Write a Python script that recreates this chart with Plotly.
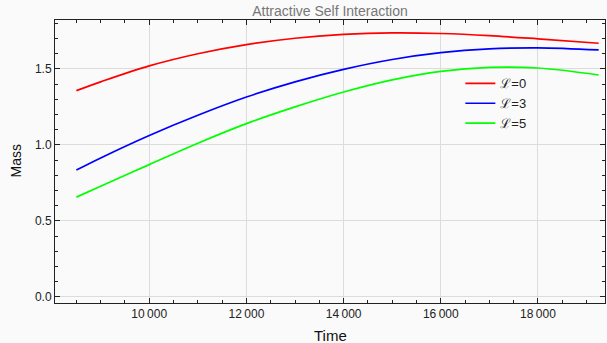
import plotly.graph_objects as go

# Time samples and mass curves for each angular-momentum value
time = [8500, 9000, 10000, 11000, 12000, 13000, 14000, 15000, 16000, 17000, 18000, 19250]
mass_L0 = [1.357, 1.415, 1.520, 1.600, 1.660, 1.702, 1.727, 1.737, 1.733, 1.719, 1.698, 1.669]
mass_L3 = [0.834, 0.914, 1.062, 1.195, 1.315, 1.415, 1.497, 1.562, 1.607, 1.632, 1.639, 1.625]
mass_L5 = [0.656, 0.728, 0.870, 1.011, 1.140, 1.250, 1.348, 1.428, 1.484, 1.510, 1.506, 1.460]

series_names = ["ℒ=0", "ℒ=3", "ℒ=5"]
series_colors = ["#ff0000", "#0000ff", "#00ff00"]

x_tickvals = [10000, 12000, 14000, 16000, 18000]
x_ticktext = ["10\u2009000", "12\u2009000", "14\u2009000", "16\u2009000", "18\u2009000"]
y_tickvals = [0.0, 0.5, 1.0, 1.5]
y_ticktext = ["0.0", "0.5", "1.0", "1.5"]

bg = "#fafafa"
font_family = "Liberation Sans, Arial, sans-serif"

fig = go.Figure()
for name, ys, color in zip(series_names, [mass_L0, mass_L3, mass_L5], series_colors):
    fig.add_trace(go.Scatter(
        x=time, y=ys, name=name, mode="lines",
        line=dict(color=color, width=1.7, shape="spline", smoothing=1.0),
    ))

axis_common = dict(
    showline=True, linecolor="#222222", linewidth=1, mirror="ticks",
    ticks="inside", ticklen=5, tickcolor="#222222", tickwidth=1,
    showgrid=True, gridcolor="#dcdcdc", gridwidth=1, zeroline=False,
    tickfont=dict(family=font_family, size=12, color="#222222"),
)

fig.update_layout(
    width=607, height=343,
    margin=dict(l=55, r=2, t=20, b=40),
    paper_bgcolor=bg, plot_bgcolor=bg,
    font=dict(family=font_family),
    title=dict(
        text="Attractive Self Interaction",
        font=dict(family=font_family, size=14, color="#777777"),
        x=0.5, xref="paper", xanchor="center",
        y=1 - 11 / 343, yref="container", yanchor="middle",
    ),
    xaxis=dict(
        range=[8060, 19380], tickmode="array",
        tickvals=x_tickvals, ticktext=x_ticktext,
        minor=dict(ticks="inside", ticklen=3, dtick=500, tick0=0,
                   tickcolor="#222222", showgrid=False),
        **axis_common,
    ),
    yaxis=dict(
        range=[-0.041, 1.822], tickmode="array",
        tickvals=y_tickvals, ticktext=y_ticktext,
        minor=dict(ticks="inside", ticklen=3, dtick=0.1, tick0=0,
                   tickcolor="#222222", showgrid=False),
        **axis_common,
    ),
    legend=dict(
        x=0.737, y=0.829, xanchor="left", yanchor="top",
        bgcolor="rgba(0,0,0,0)", borderwidth=0,
        font=dict(family=font_family, size=13, color="#222222"),
        itemwidth=30,
    ),
    annotations=[
        dict(text="Time", xref="paper", yref="paper", x=0.5, y=-0.1166,
             showarrow=False, xanchor="center", yanchor="middle",
             font=dict(family=font_family, size=15, color="#111111")),
        dict(text="Mass", xref="paper", yref="paper", x=-0.0727, y=0.5,
             showarrow=False, xanchor="center", yanchor="middle", textangle=-90,
             font=dict(family=font_family, size=14, color="#111111")),
    ],
)

fig.write_html("out.html")
